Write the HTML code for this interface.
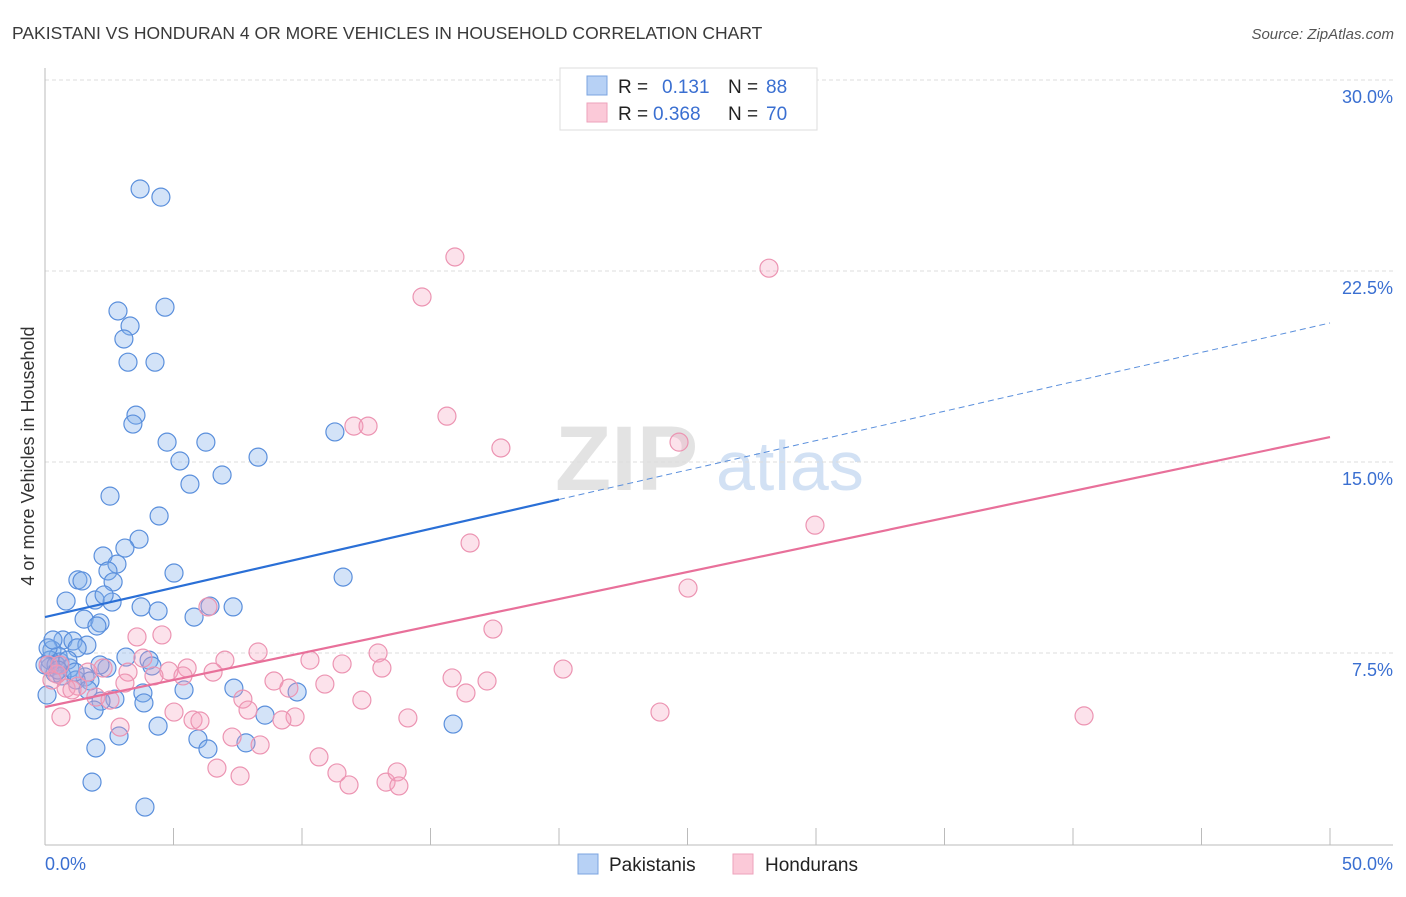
<!DOCTYPE html>
<html><head><meta charset="utf-8"><style>
body{margin:0;background:#fff;font-family:"Liberation Sans",sans-serif;}
svg text{font-family:"Liberation Sans",sans-serif;}
</style></head><body>
<svg id="chart" width="1406" height="892" xmlns="http://www.w3.org/2000/svg">
<text x="12" y="39" font-size="17.5" fill="#3a3a3a">PAKISTANI VS HONDURAN 4 OR MORE VEHICLES IN HOUSEHOLD CORRELATION CHART</text>
<text x="1394" y="39" font-size="15" fill="#555" font-style="italic" text-anchor="end">Source: ZipAtlas.com</text>
<g>
<text x="555" y="490" font-size="92" fill="#d8d8d8" font-family="Liberation Serif" font-weight="bold" opacity="0.7">ZIP</text>
<text x="716" y="490" font-size="70" fill="#c8daf2" opacity="0.8">atlas</text>
</g>
<g id="grid"></g>
<g id="axes"></g>
<g id="marks"></g>
<text transform="translate(34,456) rotate(-90)" font-size="18" fill="#333" text-anchor="middle">4 or more Vehicles in Household</text>
<g>
<rect x="560" y="68" width="257" height="62" fill="#fff" stroke="#ddd"/>
<rect x="587" y="76" width="20" height="19" fill="#b7d1f5" stroke="#7ba4e0"/>
<rect x="587" y="103" width="20" height="19" fill="#fbc9d8" stroke="#eea2bb"/>
<text x="618" y="93" font-size="19" fill="#222">R = </text><text x="662" y="93" font-size="19" fill="#3a6fd1">0.131</text>
<text x="728" y="93" font-size="19" fill="#222">N = </text><text x="766" y="93" font-size="19" fill="#3a6fd1">88</text>
<text x="618" y="120" font-size="19" fill="#222">R = </text><text x="653" y="120" font-size="19" fill="#3a6fd1">0.368</text>
<text x="728" y="120" font-size="19" fill="#222">N = </text><text x="766" y="120" font-size="19" fill="#3a6fd1">70</text>
</g>
<g>
<rect x="578" y="854" width="20" height="20" fill="#b7d1f5" stroke="#7ba4e0"/>
<text x="609" y="871" font-size="19" fill="#222">Pakistanis</text>
<rect x="733" y="854" width="20" height="20" fill="#fbc9d8" stroke="#eea2bb"/>
<text x="765" y="871" font-size="19" fill="#222">Hondurans</text>
</g>
</svg>
<script>
const yTicks=[7.5,15,22.5,30];
const yTickLabels=["7.5%","15.0%","22.5%","30.0%"];
const xTickLabels=["0.0%","50.0%"];
const pakX=[3.70,4.51,2.84,4.67,3.31,3.07,3.23,4.28,3.54,3.42,4.75,6.26,5.25,5.64,6.89,8.29,11.28,2.53,4.44,3.66,3.11,2.26,2.80,2.45,2.65,1.28,1.44,5.02,11.60,0.82,1.95,2.61,2.30,3.74,4.40,6.42,7.32,5.80,1.52,2.14,2.02,0.70,1.09,1.63,1.25,0.27,0.51,0.58,0.19,0.39,0.97,3.15,4.05,4.16,2.41,1.56,1.75,1.21,5.41,7.35,9.81,3.81,2.72,2.18,1.91,3.85,8.56,4.40,15.88,2.88,1.98,5.95,6.34,7.82,1.83,3.89,0.08,0.19,0.43,0.66,0.89,0.12,0.31,1.67,2.14,0.00,0.51,1.17];
const pakY=[25.72,25.40,20.93,21.08,20.34,19.83,18.92,18.92,16.84,16.49,15.78,15.78,15.04,14.13,14.49,15.19,16.18,13.66,12.88,11.97,11.62,11.31,10.99,10.72,10.29,10.37,10.33,10.64,10.48,9.54,9.58,9.50,9.78,9.31,9.15,9.34,9.31,8.91,8.83,8.68,8.56,8.01,7.97,7.81,7.70,7.62,7.38,7.15,6.95,6.71,6.91,7.34,7.22,6.99,6.91,6.56,6.40,6.44,6.05,6.12,5.97,5.93,5.69,5.61,5.26,5.54,5.06,4.63,4.71,4.24,3.77,4.12,3.73,3.97,2.43,1.45,5.85,7.22,7.03,6.60,7.22,7.70,8.01,6.05,7.03,7.03,6.83,6.75];
const honX=[15.95,28.17,14.67,15.64,12.02,12.57,17.74,24.67,16.54,29.96,25.02,17.43,6.34,3.58,4.55,8.29,10.31,11.56,12.96,13.11,20.16,15.84,17.20,16.38,10.89,8.91,9.49,7.00,6.54,5.53,4.82,5.37,4.24,3.81,3.23,2.26,1.67,1.28,0.82,0.47,0.27,0.12,3.11,1.98,2.92,5.02,5.76,6.03,7.70,7.90,9.73,9.22,12.33,14.12,23.93,40.43,7.28,8.37,6.69,7.59,10.66,11.36,11.83,13.27,13.70,13.77,0.62,1.05,0.58,2.53];
const honY=[23.05,22.61,21.48,16.80,16.41,16.41,15.55,15.78,11.82,12.52,10.05,8.44,9.31,8.13,8.21,7.54,7.22,7.07,7.50,6.91,6.87,6.52,6.40,5.93,6.28,6.40,6.12,7.22,6.75,6.91,6.79,6.60,6.60,7.30,6.75,6.91,6.75,6.20,6.12,6.67,6.44,7.03,6.32,5.77,4.59,5.18,4.87,4.83,5.69,5.26,4.99,4.87,5.65,4.95,5.18,5.03,4.20,3.89,2.98,2.67,3.42,2.79,2.32,2.43,2.83,2.28,4.99,6.05,7.03,5.65];
const pakTrend=[8.91,0.231];
const honTrend=[5.38,0.212];
const pakSolidEnd=20;

const NS="http://www.w3.org/2000/svg";
const X0=45,X1=1330,Y0=844,YT=80;
const sx=v=>X0+(X1-X0)*v/50;
const sy=v=>Y0-(Y0-YT)*v/30;
function mk(tag,attrs,parent){const e=document.createElementNS(NS,tag);for(const k in attrs)e.setAttribute(k,attrs[k]);parent.appendChild(e);return e;}
const grid=document.getElementById('grid'),axes=document.getElementById('axes'),marks=document.getElementById('marks');
yTicks.forEach((t,i)=>{
 const l=mk('line',{x1:X0,x2:1393,y1:sy(t),y2:sy(t),stroke:'#ddd','stroke-dasharray':'4,3'},grid);
 
 
 const tx=mk('text',{x:1393,y:sy(t)+23,'font-size':18,fill:'#3a6fd1','text-anchor':'end'},axes);
 tx.textContent=yTickLabels[i];
 
 
});
const ya=mk('line',{x1:X0,x2:X0,y1:68,y2:845,stroke:'#bbb'},axes);


const xa=mk('line',{x1:X0,x2:1393,y1:845,y2:845,stroke:'#bbb'},axes);


for(let v=5;v<=50;v+=5){
 const tk=mk('line',{x1:sx(v),x2:sx(v),y1:828,y2:845,stroke:'#bbb'},axes);
 
 
}
const xl0=mk('text',{x:X0,y:870,'font-size':18,fill:'#3a6fd1'},axes);xl0.textContent=xTickLabels[0];


const xl1=mk('text',{x:1393,y:870,'font-size':18,fill:'#3a6fd1','text-anchor':'end'},axes);xl1.textContent=xTickLabels[1];


pakX.forEach((x,i)=>{
 const c=mk('circle',{cx:sx(x),cy:sy(pakY[i]),r:9,fill:'rgba(130,175,235,0.35)',stroke:'#5a8fdc','stroke-width':1.2},marks);
 
 
});
honX.forEach((x,i)=>{
 const c=mk('circle',{cx:sx(x),cy:sy(honY[i]),r:9,fill:'rgba(245,160,190,0.3)',stroke:'#ec94b2','stroke-width':1.2},marks);
 
 
});
const f=(t,x)=>t[0]+t[1]*x;
const pl=mk('line',{x1:sx(0),y1:sy(f(pakTrend,0)),x2:sx(pakSolidEnd),y2:sy(f(pakTrend,pakSolidEnd)),stroke:'#2a6fd6','stroke-width':2.2},marks);


const pd=mk('line',{x1:sx(pakSolidEnd),y1:sy(f(pakTrend,pakSolidEnd)),x2:sx(50),y2:sy(f(pakTrend,50)),stroke:'#5a8fdc','stroke-width':1,'stroke-dasharray':'6,4'},marks);


const hl=mk('line',{x1:sx(0),y1:sy(f(honTrend,0)),x2:sx(50),y2:sy(f(honTrend,50)),stroke:'#e8709a','stroke-width':2.2},marks);


</script>
</body></html>
